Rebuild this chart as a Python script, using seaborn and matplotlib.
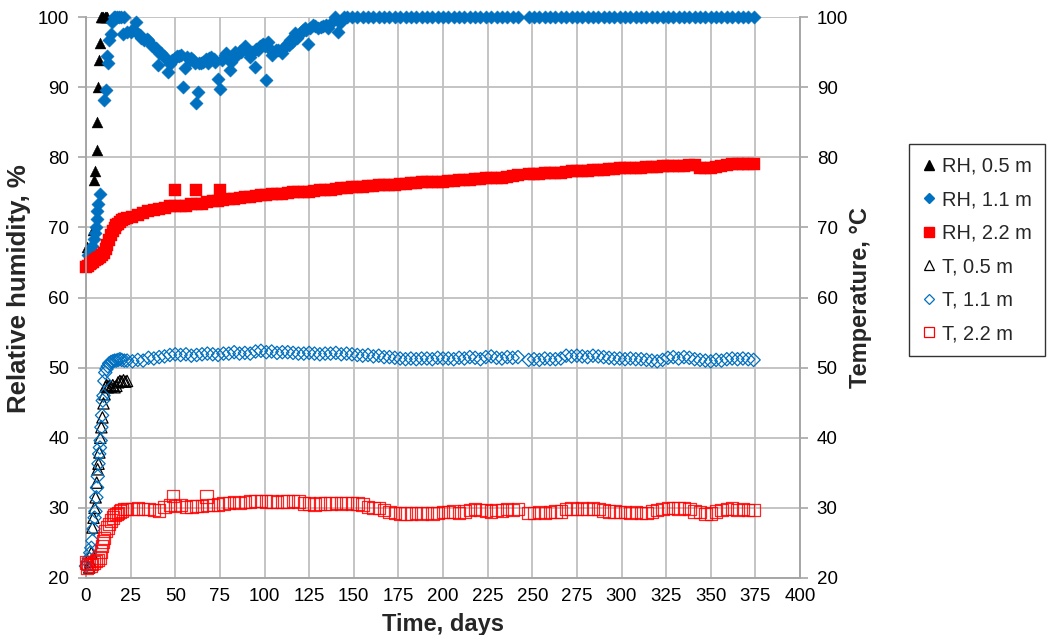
import matplotlib
matplotlib.use("Agg")
import matplotlib.pyplot as plt
from matplotlib.lines import Line2D
import seaborn as sns

# ---- sampling days shared by the slowly varying records (after day 20) ----
grid_days = [23, 26, 29, 32, 35, 38, 41, 44, 47, 50,
             53, 56, 59, 62, 65, 68, 71, 74, 77, 80,
             83, 86, 89, 92, 95, 98, 101, 104, 107, 110,
             113, 116, 119, 122, 125, 128, 131, 134, 137, 140,
             143, 146, 149, 152, 155, 158, 161, 164, 167, 170,
             173, 176, 179, 182, 185, 188, 191, 194, 197, 200,
             203, 206, 209, 212, 215, 218, 221, 224, 227, 230,
             233, 236, 239, 242,
             248, 251, 254, 257, 260, 263, 266, 269, 272, 275,
             278, 281, 284, 287, 290, 293, 296, 299, 302, 305,
             308, 311, 314, 317, 320, 323, 326, 329, 332, 335,
             338, 341, 344, 347, 350, 353, 356, 359, 362, 365,
             368, 371, 374]

# ---- RH, 0.5 m ----
rh05_days = [0.6, 4.0, 4.7, 4.9, 6.0, 6.1, 7.0, 7.2, 8.0, 8.3, 9.0, 9.8, 10.5, 11.2, 12.0]
rh05 = [67.2, 69.6, 76.7, 78.1, 81.0, 85.0, 90.0, 93.9, 96.3, 100.0, 100.0, 100.0, 100.0, 100.0, 100.0]

# ---- RH, 1.1 m (transient part) ----
rh11_days = [1.0, 2.5, 3.5, 4.5, 5.0, 5.6, 6.0, 6.4, 7.0, 7.6,
             10.3, 11.2, 11.8, 12.2, 13.1, 13.8, 14.6, 15.5, 16.5, 17.5,
             18.5, 19.5, 20.6, 21.5, 23.0, 25.3, 26.5, 28.0, 29.0, 30.0,
             31.0, 32.6, 34.0, 35.0, 36.7, 38.0, 39.0, 40.3, 41.0, 42.0,
             43.5, 45.0, 45.7, 47.0, 48.0, 49.6, 51.0, 52.0, 53.4, 54.3,
             55.2, 56.5, 58.0, 59.0, 60.0, 61.0, 61.8, 62.7, 63.5, 64.5,
             65.5, 67.0, 68.3, 69.0, 70.2, 71.5, 72.5, 74.0, 74.9, 76.0,
             77.7, 78.5, 79.5, 80.5, 81.5, 82.0, 83.3, 84.5, 86.0, 87.0,
             88.0, 89.0, 90.0, 91.8, 93.0, 94.6, 95.5, 96.4, 97.5, 98.5,
             99.3, 100.5, 101.1, 102.0, 103.0, 104.0, 105.0, 106.5, 107.7, 109.6,
             110.5, 111.5, 112.4, 113.5, 114.3, 115.5, 116.3, 117.0, 118.0, 119.5,
             120.5, 121.5, 122.6, 123.5, 124.5, 125.5, 127.4, 128.5, 130.0, 131.5,
             133.0, 134.5, 135.8, 137.6, 139.5, 141.4, 142.3, 143.3, 144.5]
rh11 = [66.0, 66.6, 67.4, 68.3, 69.2, 70.0, 71.2, 72.4, 73.4, 74.8,
        88.1, 89.6, 94.5, 93.4, 96.7, 97.6, 99.3, 100.0, 100.0, 100.0,
        100.0, 100.0, 97.6, 100.0, 97.8, 97.9, 98.3, 99.3, 97.6, 97.4,
        97.0, 96.7, 96.9, 96.7, 95.9, 95.7, 95.6, 93.1, 94.9, 94.8,
        94.4, 94.0, 92.1, 93.3, 93.8, 94.2, 94.4, 94.4, 94.6, 90.0,
        92.7, 94.3, 93.9, 94.1, 93.9, 93.5, 87.7, 89.3, 93.5, 93.4,
        93.6, 94.0, 93.4, 94.2, 94.3, 94.0, 93.6, 91.2, 89.7, 93.8,
        94.6, 94.8, 94.0, 92.4, 93.6, 94.2, 95.0, 94.6, 95.2, 95.0,
        95.5, 95.8, 95.2, 94.3, 95.0, 92.9, 95.4, 95.3, 95.8, 96.0,
        96.2, 95.8, 91.0, 96.5, 95.5, 94.6, 95.0, 95.3, 95.3, 94.9,
        95.4, 95.8, 96.2, 96.0, 96.7, 96.5, 97.2, 97.7, 97.0, 97.5,
        97.9, 98.2, 98.4, 98.2, 96.2, 98.5, 98.9, 98.7, 98.4, 98.6,
        98.7, 98.9, 98.4, 99.3, 100.0, 97.9, 99.2, 99.6, 100.0]
# saturated record from day 146 on (grid_days[41:])
rh11_late = [100.0, 100.0, 100.0, 100.0, 100.0, 100.0, 100.0, 100.0, 100.0,
             100.0, 100.0, 100.0, 100.0, 100.0, 100.0, 100.0, 100.0, 100.0, 100.0,
             100.0, 100.0, 100.0, 100.0, 100.0, 100.0, 100.0, 100.0, 100.0, 100.0,
             100.0, 100.0, 100.0, 100.0,
             100.0, 100.0, 100.0, 100.0, 100.0, 100.0, 100.0, 100.0, 100.0, 100.0,
             100.0, 100.0, 100.0, 100.0, 100.0, 100.0, 100.0, 100.0, 100.0, 100.0,
             100.0, 100.0, 100.0, 100.0, 100.0, 100.0, 100.0, 100.0, 100.0, 100.0,
             100.0, 100.0, 100.0, 100.0, 100.0, 100.0, 100.0, 100.0, 100.0, 100.0,
             100.0, 100.0, 100.0]

# ---- RH, 2.2 m ----
rh22_early_days = [0, 1, 2, 3, 4, 5, 6, 7, 8, 9, 10, 11, 12, 13, 14, 15, 16, 17, 18, 19, 20, 21.5]
rh22_early = [64.3, 64.5, 64.8, 64.9, 65.0, 65.3, 65.5, 65.6, 65.8, 66.0, 66.4,
              66.9, 67.5, 68.2, 68.9, 69.5, 69.9, 70.3, 70.5, 70.7, 71.0, 71.2]
rh22_late = [71.3, 71.5, 71.8, 72.1, 72.3, 72.5, 72.6, 72.8, 73.0, 73.1,
             73.0, 73.1, 73.3, 73.3, 73.4, 73.6, 73.7, 73.8, 73.9, 74.0,
             74.1, 74.2, 74.3, 74.4, 74.5, 74.6, 74.6, 74.7, 74.7, 74.8,
             74.9, 75.0, 75.0, 75.1, 75.1, 75.2, 75.3, 75.3, 75.4, 75.5,
             75.6, 75.6, 75.7, 75.8, 75.8, 75.9, 75.9, 76.0, 76.0, 76.1,
             76.1, 76.2, 76.2, 76.3, 76.3, 76.4, 76.4, 76.5, 76.5, 76.5,
             76.6, 76.6, 76.7, 76.8, 76.8, 76.9, 76.9, 77.0, 77.0, 77.1,
             77.1, 77.2, 77.3, 77.4,
             77.6, 77.6, 77.6, 77.7, 77.7, 77.8, 77.8, 77.9, 78.0, 78.0,
             78.1, 78.1, 78.2, 78.2, 78.2, 78.3, 78.3, 78.4, 78.4, 78.5,
             78.5, 78.5, 78.6, 78.6, 78.6, 78.7, 78.7, 78.8, 78.8, 78.8,
             78.9, 78.9, 78.5, 78.4, 78.5, 78.6, 78.7, 78.9, 79.0, 79.1,
             79.0, 79.1, 79.1]
rh22_spike_days = [49.6, 61.8, 75.0]
rh22_spike = [75.4, 75.3, 75.4]

# ---- T, 0.5 m ----
t05_days = [1.8, 2.4, 3.0, 3.6, 4.2, 4.8, 5.4, 6.0, 6.5, 7.0,
            7.5, 8.0, 8.6, 9.2, 9.8, 10.4, 11.0, 11.6, 12.2, 13.0,
            14.0, 15.0, 16.0, 17.0, 18.0, 19.0, 20.0, 21.0, 22.0, 23.0]
t05 = [21.5, 22.3, 23.6, 27.2, 28.6, 30.0, 31.5, 33.6, 35.5, 36.3,
       37.9, 40.0, 41.5, 42.9, 44.9, 46.2, 47.3, 47.5, 47.2, 47.4,
       47.3, 47.5, 47.2, 47.4, 47.9, 48.1, 48.0, 48.2, 48.0, 48.1]

# ---- T, 1.1 m ----
t11_early_days = [0.0, 0.8, 1.6, 2.4, 3.0, 3.6, 4.2, 4.8, 5.3, 5.8,
                  6.2, 6.6, 7.0, 7.4, 7.8, 8.2, 8.6, 9.0, 9.4, 9.8,
                  10.3, 10.8, 11.5, 12.2, 13.0, 14.0, 15.0, 16.0, 17.0, 18.0,
                  19.0, 20.0, 21.5]
t11_early = [21.7, 22.3, 22.8, 23.6, 24.3, 25.3, 27.0, 28.6, 29.5, 31.5,
             32.9, 34.5, 36.3, 37.7, 38.6, 39.6, 41.5, 43.2, 45.3, 46.0,
             48.1, 49.3, 49.8, 50.2, 50.6, 50.8, 50.9, 51.0, 51.0, 51.1,
             51.2, 51.1, 51.0]
t11_late = [51.0, 50.9, 51.1, 51.0, 51.4, 51.3, 51.5, 51.6, 51.8, 51.9,
            51.8, 51.9, 51.7, 51.8, 51.9, 52.0, 51.9, 51.8, 52.0, 52.0,
            52.2, 52.0, 52.1, 52.0, 52.3, 52.4, 52.2, 52.3, 52.1, 52.2,
            52.2, 52.1, 52.0, 52.0, 52.1, 52.0, 51.9, 52.0, 52.0, 52.1,
            51.9, 52.0, 51.9, 51.8, 51.7, 51.8, 51.6, 51.7, 51.5, 51.5,
            51.4, 51.3, 51.2, 51.3, 51.2, 51.3, 51.3, 51.2, 51.4, 51.3,
            51.3, 51.2, 51.4, 51.3, 51.5, 51.4, 51.2, 51.5, 51.6, 51.4,
            51.3, 51.5, 51.4, 51.5,
            51.1, 51.2, 51.1, 51.3, 51.2, 51.2, 51.3, 51.7, 51.6, 51.7,
            51.6, 51.5, 51.7, 51.6, 51.5, 51.4, 51.3, 51.3, 51.2, 51.3,
            51.2, 51.2, 51.1, 51.0, 50.9, 51.1, 51.4, 51.5, 51.3, 51.5,
            51.4, 51.2, 51.1, 51.0, 50.9, 51.1, 51.0, 51.2, 51.3, 51.2,
            51.3, 51.2, 51.1]

# ---- T, 2.2 m ----
t22_early_days = [0.0, 0.5, 1.5, 2.5, 3.5, 4.5, 5.5, 6.5, 7.5, 8.5,
                  9.0, 9.5, 10.0, 11.0, 12.0, 13.0, 14.0, 15.0, 16.0, 17.0,
                  18.0, 19.0, 20.0, 21.5]
t22_early = [22.2, 21.5, 22.0, 21.8, 22.0, 22.2, 22.4, 22.6, 22.9, 23.8,
             24.6, 25.2, 25.7, 26.7, 27.2, 27.7, 28.2, 28.6, 29.0, 29.1,
             29.3, 29.5, 29.6, 29.8]
t22_late = [29.8, 29.8, 29.9, 29.8, 29.8, 29.7, 29.6, 30.1, 30.4, 30.3,
            30.4, 30.1, 30.2, 30.3, 30.3, 30.4, 30.4, 30.5, 30.6, 30.7,
            30.8, 30.7, 30.8, 30.9, 31.0, 31.0, 30.9, 30.9, 30.8, 30.9,
            30.9, 31.0, 30.9, 30.6, 30.6, 30.5, 30.6, 30.6, 30.6, 30.7,
            30.6, 30.7, 30.6, 30.6, 30.5, 30.1, 30.0, 30.0, 29.7, 29.4,
            29.3, 29.2, 29.2, 29.2, 29.3, 29.2, 29.3, 29.2, 29.3, 29.4,
            29.4, 29.5, 29.3, 29.5, 29.7, 29.8, 29.7, 29.6, 29.5, 29.7,
            29.6, 29.8, 29.7, 29.8,
            29.3, 29.3, 29.4, 29.3, 29.4, 29.5, 29.5, 29.8, 29.9, 29.8,
            29.9, 29.8, 29.9, 29.8, 29.6, 29.5, 29.5, 29.4, 29.4, 29.3,
            29.4, 29.3, 29.3, 29.5, 29.7, 29.8, 30.0, 30.0, 29.9, 30.0,
            29.8, 29.5, 29.4, 29.1, 29.2, 29.5, 29.7, 29.8, 29.9, 29.7,
            29.8, 29.7, 29.7]
t22_spike_days = [48.7, 67.4]
t22_spike = [31.7, 31.6]

labels = ["RH, 0.5 m", "RH, 1.1 m", "RH, 2.2 m", "T, 0.5 m", "T, 1.1 m", "T, 2.2 m"]
x_ticks = [0, 25, 50, 75, 100, 125, 150, 175, 200, 225, 250, 275, 300, 325, 350, 375, 400]
y_ticks = [20, 30, 40, 50, 60, 70, 80, 90, 100]

BLUE = "#0070C0"
RED = "#FF0000"
GRID = "#BFBFBF"
AXIS = "#A6A6A6"

sns.set_theme(style="white")
plt.rcParams["font.family"] = ["Liberation Sans", "DejaVu Sans"]

fig = plt.figure(figsize=(10.49, 6.35), dpi=100)
ax = fig.add_axes([86 / 1049, 1 - 578 / 635, (800 - 86) / 1049, (578 - 17) / 635])
ax2 = ax.twinx()

# relative humidity, left axis
sns.scatterplot(x=rh05_days, y=rh05, ax=ax, marker="^", s=62, color="black",
                edgecolor="black", linewidth=0.3, clip_on=False, zorder=3)
sns.scatterplot(x=rh11_days + grid_days[41:], y=rh11 + rh11_late, ax=ax, marker="D", s=46,
                color=BLUE, edgecolor=BLUE, linewidth=0.3, clip_on=False, zorder=4)
sns.scatterplot(x=rh22_early_days + grid_days + rh22_spike_days,
                y=rh22_early + rh22_late + rh22_spike, ax=ax, marker="s", s=72,
                color=RED, edgecolor=RED, linewidth=0.3, clip_on=False, zorder=5)

# temperature, right axis
sns.scatterplot(x=t05_days, y=t05, ax=ax2, marker="^", s=66, color="black",
                facecolor="none", edgecolor="black", linewidth=0.9, clip_on=False, zorder=3)
sns.scatterplot(x=t11_early_days + grid_days, y=t11_early + t11_late, ax=ax2, marker="D", s=46,
                color=BLUE, facecolor="none", edgecolor=BLUE, linewidth=0.9, clip_on=False, zorder=4)
sns.scatterplot(x=t22_early_days + grid_days + t22_spike_days,
                y=t22_early + t22_late + t22_spike, ax=ax2, marker="s", s=80,
                color=RED, facecolor="none", edgecolor=RED, linewidth=0.9, alpha=0.85,
                clip_on=False, zorder=5)

for a in (ax, ax2):
    a.set_xlim(0, 400)
    a.set_ylim(20, 100)
    a.set_yticks(y_ticks)
    a.set_facecolor("none")
    a.spines["top"].set_visible(False)
    for side in ("left", "right", "bottom"):
        a.spines[side].set_color(AXIS)
        a.spines[side].set_linewidth(1.2)

ax.set_xticks(x_ticks)
ax.grid(True, color=GRID, linewidth=1.3)
ax.set_axisbelow(True)
ax.tick_params(axis="x", length=0, pad=7, labelsize=13.5, labelcolor="black")
ax.tick_params(axis="y", left=True, length=6, width=1.2, color=AXIS, pad=6,
               labelsize=13.5, labelcolor="black")
ax2.tick_params(axis="y", right=True, length=6, width=1.2, color=AXIS, pad=6,
                labelsize=13.5, labelcolor="black")

ax.set_xlabel("Time, days", fontsize=17, fontweight="bold")
ax.xaxis.set_label_coords(0.5, -0.062)
ax.set_ylabel("Relative humidity, %", fontsize=18.5, fontweight="bold")
ax.yaxis.set_label_coords(-0.077, 0.515)
ax2.set_ylabel("Temperature, °C", fontsize=17, fontweight="bold", rotation=90)
ax2.yaxis.set_label_coords(1.069, 0.5)

handles = [
    Line2D([], [], linestyle="none", marker="^", markersize=7, color="black"),
    Line2D([], [], linestyle="none", marker="D", markersize=5, color=BLUE),
    Line2D([], [], linestyle="none", marker="s", markersize=7.5, color=RED),
    Line2D([], [], linestyle="none", marker="^", markersize=7, markerfacecolor="none",
           markeredgecolor="black", markeredgewidth=0.9),
    Line2D([], [], linestyle="none", marker="D", markersize=5, markerfacecolor="none",
           markeredgecolor=BLUE, markeredgewidth=0.9),
    Line2D([], [], linestyle="none", marker="s", markersize=7.5, markerfacecolor="none",
           markeredgecolor=RED, markeredgewidth=0.9),
]
leg = fig.legend(handles, labels, loc="upper left", bbox_to_anchor=(909 / 1049, 1 - 144 / 635),
                 frameon=True, fancybox=False, shadow=False, fontsize=14.4,
                 handlelength=0.7, handletextpad=0.3, labelspacing=0.72,
                 borderpad=0.65, borderaxespad=0)
leg.get_frame().set_edgecolor("black")
leg.get_frame().set_linewidth(1.0)

fig.savefig("out.png", dpi=100)
